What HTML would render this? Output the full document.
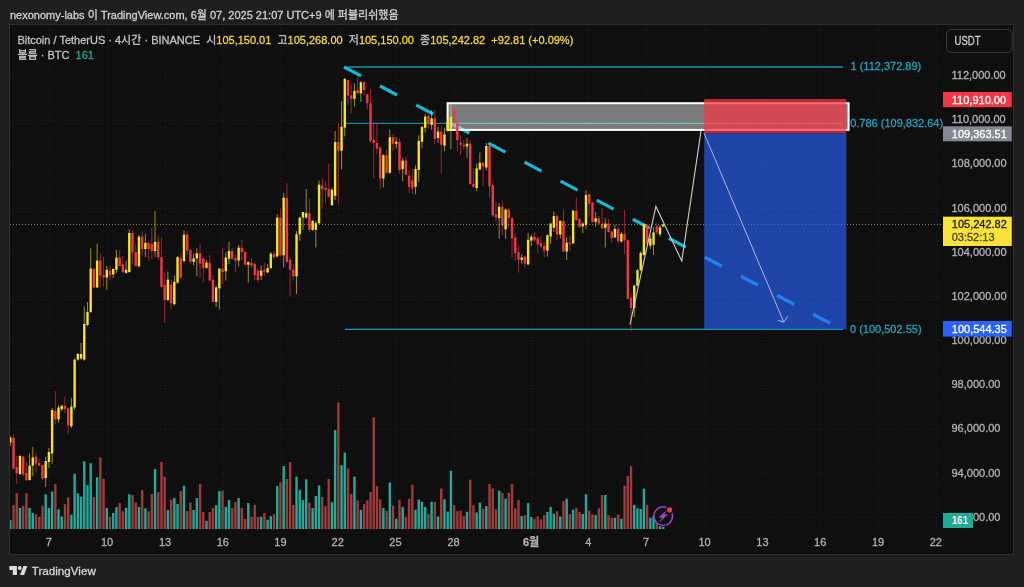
<!DOCTYPE html>
<html><head><meta charset="utf-8">
<style>
*{margin:0;padding:0;box-sizing:border-box}
html,body{width:1024px;height:587px;overflow:hidden;background:#1f1f1f}
#panel{position:absolute;left:9px;top:24px;width:1005px;height:531px;background:#0f0f0f;border:1px solid #2c2c2c}
svg{position:absolute;left:0;top:0;font-family:"Liberation Sans","Noto Sans CJK KR",sans-serif}
text{stroke-width:0.28px}
</style></head><body>
<div id="panel"></div>
<svg width="1024" height="587" viewBox="0 0 1024 587">
<defs><clipPath id="cp"><rect x="10" y="25" width="932" height="504"/></clipPath></defs>
<g clip-path="url(#cp)"><g stroke="#1d1d1d" stroke-width="1" stroke-dasharray="1 2"><line x1="10" y1="517.5" x2="942" y2="517.5"/><line x1="10" y1="473.5" x2="942" y2="473.5"/><line x1="10" y1="429.5" x2="942" y2="429.5"/><line x1="10" y1="385.5" x2="942" y2="385.5"/><line x1="10" y1="340.5" x2="942" y2="340.5"/><line x1="10" y1="296.5" x2="942" y2="296.5"/><line x1="10" y1="252.5" x2="942" y2="252.5"/><line x1="10" y1="208.5" x2="942" y2="208.5"/><line x1="10" y1="164.5" x2="942" y2="164.5"/><line x1="10" y1="120.5" x2="942" y2="120.5"/><line x1="10" y1="75.5" x2="942" y2="75.5"/><line x1="49.5" y1="25" x2="49.5" y2="529"/><line x1="107.5" y1="25" x2="107.5" y2="529"/><line x1="165.5" y1="25" x2="165.5" y2="529"/><line x1="223.5" y1="25" x2="223.5" y2="529"/><line x1="280.5" y1="25" x2="280.5" y2="529"/><line x1="338.5" y1="25" x2="338.5" y2="529"/><line x1="395.5" y1="25" x2="395.5" y2="529"/><line x1="454.5" y1="25" x2="454.5" y2="529"/><line x1="531.5" y1="25" x2="531.5" y2="529"/><line x1="588.5" y1="25" x2="588.5" y2="529"/><line x1="646.5" y1="25" x2="646.5" y2="529"/><line x1="705.5" y1="25" x2="705.5" y2="529"/><line x1="762.5" y1="25" x2="762.5" y2="529"/><line x1="820.5" y1="25" x2="820.5" y2="529"/><line x1="878.5" y1="25" x2="878.5" y2="529"/><line x1="936.5" y1="25" x2="936.5" y2="529"/></g><g fill="#24a99b"><rect x="9.10" y="520.2" width="2.4" height="8.8"/><rect x="18.75" y="507.9" width="2.4" height="21.1"/><rect x="28.40" y="507.9" width="2.4" height="21.1"/><rect x="31.61" y="513.0" width="2.4" height="16.0"/><rect x="44.48" y="494.3" width="2.4" height="34.7"/><rect x="47.69" y="507.9" width="2.4" height="21.1"/><rect x="50.91" y="491.6" width="2.4" height="37.4"/><rect x="57.34" y="509.3" width="2.4" height="19.7"/><rect x="60.56" y="516.5" width="2.4" height="12.5"/><rect x="70.21" y="514.7" width="2.4" height="14.3"/><rect x="73.42" y="473.8" width="2.4" height="55.2"/><rect x="76.64" y="493.3" width="2.4" height="35.7"/><rect x="79.86" y="496.6" width="2.4" height="32.4"/><rect x="83.07" y="461.4" width="2.4" height="67.6"/><rect x="86.29" y="485.1" width="2.4" height="43.9"/><rect x="89.50" y="463.2" width="2.4" height="65.8"/><rect x="95.94" y="477.2" width="2.4" height="51.8"/><rect x="105.59" y="507.9" width="2.4" height="21.1"/><rect x="112.02" y="513.0" width="2.4" height="16.0"/><rect x="115.23" y="507.2" width="2.4" height="21.8"/><rect x="124.88" y="507.9" width="2.4" height="21.1"/><rect x="128.10" y="494.3" width="2.4" height="34.7"/><rect x="137.75" y="506.9" width="2.4" height="22.1"/><rect x="144.18" y="508.3" width="2.4" height="20.7"/><rect x="153.83" y="469.1" width="2.4" height="59.9"/><rect x="166.69" y="510.0" width="2.4" height="19.0"/><rect x="173.13" y="498.0" width="2.4" height="31.0"/><rect x="176.34" y="504.1" width="2.4" height="24.9"/><rect x="182.77" y="485.7" width="2.4" height="43.3"/><rect x="192.42" y="510.0" width="2.4" height="19.0"/><rect x="195.64" y="498.0" width="2.4" height="31.0"/><rect x="205.29" y="520.8" width="2.4" height="8.2"/><rect x="214.94" y="505.2" width="2.4" height="23.8"/><rect x="218.15" y="491.1" width="2.4" height="37.9"/><rect x="224.59" y="506.9" width="2.4" height="22.1"/><rect x="227.80" y="500.1" width="2.4" height="28.9"/><rect x="237.45" y="498.0" width="2.4" height="31.0"/><rect x="247.10" y="503.1" width="2.4" height="25.9"/><rect x="259.96" y="516.8" width="2.4" height="12.2"/><rect x="266.40" y="519.8" width="2.4" height="9.2"/><rect x="269.61" y="516.1" width="2.4" height="12.9"/><rect x="276.04" y="486.1" width="2.4" height="42.9"/><rect x="282.48" y="466.1" width="2.4" height="62.9"/><rect x="295.34" y="476.6" width="2.4" height="52.4"/><rect x="298.56" y="489.8" width="2.4" height="39.2"/><rect x="301.77" y="500.1" width="2.4" height="28.9"/><rect x="304.99" y="479.3" width="2.4" height="49.7"/><rect x="311.42" y="508.2" width="2.4" height="20.8"/><rect x="314.64" y="496.1" width="2.4" height="32.9"/><rect x="317.86" y="485.5" width="2.4" height="43.5"/><rect x="330.72" y="502.2" width="2.4" height="26.8"/><rect x="333.94" y="430.1" width="2.4" height="98.9"/><rect x="340.37" y="465.2" width="2.4" height="63.8"/><rect x="343.58" y="452.5" width="2.4" height="76.5"/><rect x="353.23" y="476.6" width="2.4" height="52.4"/><rect x="359.67" y="509.8" width="2.4" height="19.2"/><rect x="382.18" y="508.1" width="2.4" height="20.9"/><rect x="388.61" y="482.5" width="2.4" height="46.5"/><rect x="395.04" y="518.8" width="2.4" height="10.2"/><rect x="401.48" y="506.9" width="2.4" height="22.1"/><rect x="414.34" y="509.7" width="2.4" height="19.3"/><rect x="417.56" y="499.5" width="2.4" height="29.5"/><rect x="420.77" y="501.8" width="2.4" height="27.2"/><rect x="423.99" y="506.9" width="2.4" height="22.1"/><rect x="430.42" y="501.8" width="2.4" height="27.2"/><rect x="436.85" y="516.5" width="2.4" height="12.5"/><rect x="443.29" y="499.3" width="2.4" height="29.7"/><rect x="446.50" y="511.6" width="2.4" height="17.4"/><rect x="449.72" y="470.7" width="2.4" height="58.3"/><rect x="465.80" y="511.8" width="2.4" height="17.2"/><rect x="475.45" y="512.4" width="2.4" height="16.6"/><rect x="478.67" y="502.5" width="2.4" height="26.5"/><rect x="485.10" y="506.1" width="2.4" height="22.9"/><rect x="497.96" y="490.6" width="2.4" height="38.4"/><rect x="504.39" y="498.8" width="2.4" height="30.2"/><rect x="520.48" y="516.1" width="2.4" height="12.9"/><rect x="526.91" y="503.1" width="2.4" height="25.9"/><rect x="530.12" y="517.0" width="2.4" height="12.0"/><rect x="546.21" y="512.0" width="2.4" height="17.0"/><rect x="549.42" y="506.9" width="2.4" height="22.1"/><rect x="552.64" y="513.8" width="2.4" height="15.2"/><rect x="559.07" y="516.5" width="2.4" height="12.5"/><rect x="565.50" y="498.8" width="2.4" height="30.2"/><rect x="571.93" y="509.7" width="2.4" height="19.3"/><rect x="581.58" y="514.0" width="2.4" height="15.0"/><rect x="584.80" y="494.3" width="2.4" height="34.7"/><rect x="594.45" y="515.1" width="2.4" height="13.9"/><rect x="604.10" y="495.0" width="2.4" height="34.0"/><rect x="613.75" y="517.8" width="2.4" height="11.2"/><rect x="620.18" y="518.8" width="2.4" height="10.2"/><rect x="633.04" y="504.8" width="2.4" height="24.2"/><rect x="636.26" y="508.3" width="2.4" height="20.7"/><rect x="639.48" y="508.9" width="2.4" height="20.1"/><rect x="642.69" y="488.6" width="2.4" height="40.4"/><rect x="649.12" y="517.8" width="2.4" height="11.2"/><rect x="652.34" y="516.1" width="2.4" height="12.9"/><rect x="658.77" y="526.3" width="2.4" height="2.7"/><rect x="661.99" y="527.0" width="2.4" height="2.0"/></g><g fill="#9e3b3b"><rect x="12.32" y="505.2" width="2.4" height="23.8"/><rect x="15.53" y="493.3" width="2.4" height="35.7"/><rect x="21.96" y="505.9" width="2.4" height="23.1"/><rect x="25.18" y="493.3" width="2.4" height="35.7"/><rect x="34.83" y="514.3" width="2.4" height="14.7"/><rect x="38.05" y="516.8" width="2.4" height="12.2"/><rect x="41.26" y="505.6" width="2.4" height="23.4"/><rect x="54.13" y="484.0" width="2.4" height="45.0"/><rect x="63.78" y="504.2" width="2.4" height="24.8"/><rect x="66.99" y="497.4" width="2.4" height="31.6"/><rect x="92.72" y="497.0" width="2.4" height="32.0"/><rect x="99.15" y="457.5" width="2.4" height="71.5"/><rect x="102.37" y="478.9" width="2.4" height="50.1"/><rect x="108.80" y="516.8" width="2.4" height="12.2"/><rect x="118.45" y="503.1" width="2.4" height="25.9"/><rect x="121.67" y="511.3" width="2.4" height="17.7"/><rect x="131.32" y="495.0" width="2.4" height="34.0"/><rect x="134.53" y="502.5" width="2.4" height="26.5"/><rect x="140.96" y="490.2" width="2.4" height="38.8"/><rect x="147.40" y="511.3" width="2.4" height="17.7"/><rect x="150.61" y="493.9" width="2.4" height="35.1"/><rect x="157.05" y="492.2" width="2.4" height="36.8"/><rect x="160.26" y="462.0" width="2.4" height="67.0"/><rect x="163.48" y="476.8" width="2.4" height="52.2"/><rect x="169.91" y="499.7" width="2.4" height="29.3"/><rect x="179.56" y="490.9" width="2.4" height="38.1"/><rect x="185.99" y="510.9" width="2.4" height="18.1"/><rect x="189.21" y="502.5" width="2.4" height="26.5"/><rect x="198.86" y="484.0" width="2.4" height="45.0"/><rect x="202.07" y="512.0" width="2.4" height="17.0"/><rect x="208.50" y="512.0" width="2.4" height="17.0"/><rect x="211.72" y="507.9" width="2.4" height="21.1"/><rect x="221.37" y="490.6" width="2.4" height="38.4"/><rect x="231.02" y="507.9" width="2.4" height="21.1"/><rect x="234.23" y="501.8" width="2.4" height="27.2"/><rect x="240.67" y="507.9" width="2.4" height="21.1"/><rect x="243.88" y="518.8" width="2.4" height="10.2"/><rect x="250.32" y="516.8" width="2.4" height="12.2"/><rect x="253.53" y="504.8" width="2.4" height="24.2"/><rect x="256.75" y="516.8" width="2.4" height="12.2"/><rect x="263.18" y="513.0" width="2.4" height="16.0"/><rect x="272.83" y="514.3" width="2.4" height="14.7"/><rect x="279.26" y="482.4" width="2.4" height="46.6"/><rect x="285.69" y="478.9" width="2.4" height="50.1"/><rect x="288.91" y="462.0" width="2.4" height="67.0"/><rect x="292.13" y="504.8" width="2.4" height="24.2"/><rect x="308.21" y="502.5" width="2.4" height="26.5"/><rect x="321.07" y="496.9" width="2.4" height="32.1"/><rect x="324.29" y="506.2" width="2.4" height="22.8"/><rect x="327.50" y="479.0" width="2.4" height="50.0"/><rect x="337.15" y="402.4" width="2.4" height="126.6"/><rect x="346.80" y="468.3" width="2.4" height="60.7"/><rect x="350.02" y="493.8" width="2.4" height="35.2"/><rect x="356.45" y="500.3" width="2.4" height="28.7"/><rect x="362.88" y="504.1" width="2.4" height="24.9"/><rect x="366.10" y="500.3" width="2.4" height="28.7"/><rect x="369.31" y="492.1" width="2.4" height="36.9"/><rect x="372.53" y="417.4" width="2.4" height="111.6"/><rect x="375.75" y="486.2" width="2.4" height="42.8"/><rect x="378.96" y="499.3" width="2.4" height="29.7"/><rect x="385.40" y="510.8" width="2.4" height="18.2"/><rect x="391.83" y="505.6" width="2.4" height="23.4"/><rect x="398.26" y="499.7" width="2.4" height="29.3"/><rect x="404.69" y="516.8" width="2.4" height="12.2"/><rect x="407.91" y="498.8" width="2.4" height="30.2"/><rect x="411.13" y="484.7" width="2.4" height="44.3"/><rect x="427.21" y="513.8" width="2.4" height="15.2"/><rect x="433.64" y="501.8" width="2.4" height="27.2"/><rect x="440.07" y="488.4" width="2.4" height="40.6"/><rect x="452.94" y="505.2" width="2.4" height="23.8"/><rect x="456.15" y="511.3" width="2.4" height="17.7"/><rect x="459.37" y="510.6" width="2.4" height="18.4"/><rect x="462.58" y="516.1" width="2.4" height="12.9"/><rect x="469.02" y="479.7" width="2.4" height="49.3"/><rect x="472.23" y="505.2" width="2.4" height="23.8"/><rect x="481.88" y="508.6" width="2.4" height="20.4"/><rect x="488.31" y="484.0" width="2.4" height="45.0"/><rect x="491.53" y="488.4" width="2.4" height="40.6"/><rect x="494.75" y="509.3" width="2.4" height="19.7"/><rect x="501.18" y="492.9" width="2.4" height="36.1"/><rect x="507.61" y="492.9" width="2.4" height="36.1"/><rect x="510.83" y="484.0" width="2.4" height="45.0"/><rect x="514.04" y="508.3" width="2.4" height="20.7"/><rect x="517.26" y="500.1" width="2.4" height="28.9"/><rect x="523.69" y="515.1" width="2.4" height="13.9"/><rect x="533.34" y="518.8" width="2.4" height="10.2"/><rect x="536.56" y="516.5" width="2.4" height="12.5"/><rect x="539.77" y="519.5" width="2.4" height="9.5"/><rect x="542.99" y="515.1" width="2.4" height="13.9"/><rect x="555.85" y="511.3" width="2.4" height="17.7"/><rect x="562.29" y="501.1" width="2.4" height="27.9"/><rect x="568.72" y="514.0" width="2.4" height="15.0"/><rect x="575.15" y="507.9" width="2.4" height="21.1"/><rect x="578.37" y="512.0" width="2.4" height="17.0"/><rect x="588.02" y="510.6" width="2.4" height="18.4"/><rect x="591.23" y="514.3" width="2.4" height="14.7"/><rect x="597.66" y="508.3" width="2.4" height="20.7"/><rect x="600.88" y="495.0" width="2.4" height="34.0"/><rect x="607.31" y="515.1" width="2.4" height="13.9"/><rect x="610.53" y="517.8" width="2.4" height="11.2"/><rect x="616.96" y="514.7" width="2.4" height="14.3"/><rect x="623.39" y="485.7" width="2.4" height="43.3"/><rect x="626.61" y="475.9" width="2.4" height="53.1"/><rect x="629.83" y="466.3" width="2.4" height="62.7"/><rect x="645.91" y="504.8" width="2.4" height="24.2"/><rect x="655.56" y="522.2" width="2.4" height="6.8"/></g><g stroke="#0a9bb0"><line x1="347" y1="67" x2="843" y2="67" stroke-width="1.4"/><line x1="345" y1="123.3" x2="843" y2="123.3" stroke-width="1" stroke="#1aa6bc"/><line x1="345" y1="329.4" x2="843" y2="329.4" stroke-width="1.3"/></g><line x1="344" y1="67" x2="830" y2="323.2" stroke="#18b8d2" stroke-width="3.2" stroke-dasharray="19.2 21.6"/><rect x="447.6" y="103.2" width="401" height="26.7" fill="#ffffff" fill-opacity="0.45" stroke="#ffffff" stroke-width="2"/><g stroke="#f5e22e" stroke-width="1" opacity="0.6"><line x1="10.30" y1="436.0" x2="10.30" y2="446.0"/><line x1="19.95" y1="455.0" x2="19.95" y2="475.0"/><line x1="29.60" y1="453.4" x2="29.60" y2="480.6"/><line x1="32.81" y1="447.0" x2="32.81" y2="476.0"/><line x1="45.68" y1="456.8" x2="45.68" y2="486.8"/><line x1="48.89" y1="448.0" x2="48.89" y2="468.0"/><line x1="52.11" y1="408.0" x2="52.11" y2="463.6"/><line x1="58.54" y1="405.0" x2="58.54" y2="422.8"/><line x1="61.76" y1="405.0" x2="61.76" y2="411.0"/><line x1="71.41" y1="398.0" x2="71.41" y2="428.0"/><line x1="74.62" y1="358.5" x2="74.62" y2="410.0"/><line x1="77.84" y1="353.0" x2="77.84" y2="360.7"/><line x1="81.06" y1="343.0" x2="81.06" y2="359.6"/><line x1="84.27" y1="306.5" x2="84.27" y2="360.7"/><line x1="87.49" y1="302.0" x2="87.49" y2="326.4"/><line x1="90.70" y1="248.3" x2="90.70" y2="313.0"/><line x1="97.14" y1="243.7" x2="97.14" y2="287.5"/><line x1="106.79" y1="266.0" x2="106.79" y2="289.8"/><line x1="113.22" y1="268.3" x2="113.22" y2="278.2"/><line x1="116.43" y1="249.9" x2="116.43" y2="272.9"/><line x1="126.08" y1="260.6" x2="126.08" y2="273.6"/><line x1="129.30" y1="229.2" x2="129.30" y2="272.9"/><line x1="138.95" y1="234.6" x2="138.95" y2="267.3"/><line x1="145.38" y1="233.6" x2="145.38" y2="257.0"/><line x1="155.03" y1="211.0" x2="155.03" y2="257.1"/><line x1="167.89" y1="271.5" x2="167.89" y2="301.0"/><line x1="174.33" y1="275.5" x2="174.33" y2="305.2"/><line x1="177.54" y1="256.0" x2="177.54" y2="283.7"/><line x1="183.97" y1="230.3" x2="183.97" y2="262.7"/><line x1="193.62" y1="253.3" x2="193.62" y2="265.3"/><line x1="196.84" y1="248.2" x2="196.84" y2="276.3"/><line x1="206.49" y1="260.2" x2="206.49" y2="268.6"/><line x1="216.14" y1="285.7" x2="216.14" y2="307.0"/><line x1="219.35" y1="267.8" x2="219.35" y2="309.5"/><line x1="225.79" y1="252.5" x2="225.79" y2="280.6"/><line x1="229.00" y1="241.7" x2="229.00" y2="263.9"/><line x1="238.65" y1="245.0" x2="238.65" y2="266.4"/><line x1="248.30" y1="261.3" x2="248.30" y2="282.6"/><line x1="261.16" y1="265.6" x2="261.16" y2="280.0"/><line x1="267.60" y1="264.0" x2="267.60" y2="273.2"/><line x1="270.81" y1="252.0" x2="270.81" y2="269.0"/><line x1="277.24" y1="214.3" x2="277.24" y2="257.5"/><line x1="283.68" y1="193.3" x2="283.68" y2="267.5"/><line x1="296.54" y1="231.0" x2="296.54" y2="294.0"/><line x1="299.76" y1="216.5" x2="299.76" y2="240.9"/><line x1="302.97" y1="212.0" x2="302.97" y2="229.8"/><line x1="306.19" y1="188.8" x2="306.19" y2="218.7"/><line x1="312.62" y1="219.9" x2="312.62" y2="230.9"/><line x1="315.84" y1="221.0" x2="315.84" y2="247.5"/><line x1="319.06" y1="180.5" x2="319.06" y2="224.2"/><line x1="331.92" y1="188.0" x2="331.92" y2="206.0"/><line x1="335.14" y1="131.0" x2="335.14" y2="200.0"/><line x1="341.57" y1="101.0" x2="341.57" y2="169.4"/><line x1="344.78" y1="77.8" x2="344.78" y2="136.4"/><line x1="354.43" y1="83.3" x2="354.43" y2="106.5"/><line x1="360.87" y1="81.0" x2="360.87" y2="102.0"/><line x1="383.38" y1="154.0" x2="383.38" y2="187.4"/><line x1="389.81" y1="129.7" x2="389.81" y2="173.7"/><line x1="396.24" y1="137.0" x2="396.24" y2="148.5"/><line x1="402.68" y1="157.8" x2="402.68" y2="181.2"/><line x1="415.54" y1="165.3" x2="415.54" y2="194.3"/><line x1="418.76" y1="135.3" x2="418.76" y2="182.1"/><line x1="421.97" y1="126.0" x2="421.97" y2="148.4"/><line x1="425.19" y1="113.7" x2="425.19" y2="132.5"/><line x1="431.62" y1="110.0" x2="431.62" y2="129.7"/><line x1="438.05" y1="126.9" x2="438.05" y2="142.8"/><line x1="444.49" y1="127.8" x2="444.49" y2="151.2"/><line x1="447.70" y1="118.4" x2="447.70" y2="131.5"/><line x1="450.92" y1="104.4" x2="450.92" y2="149.3"/><line x1="467.00" y1="138.0" x2="467.00" y2="157.8"/><line x1="476.65" y1="163.7" x2="476.65" y2="191.0"/><line x1="479.87" y1="152.5" x2="479.87" y2="170.3"/><line x1="486.30" y1="143.0" x2="486.30" y2="170.3"/><line x1="499.16" y1="203.0" x2="499.16" y2="238.7"/><line x1="505.59" y1="208.7" x2="505.59" y2="238.7"/><line x1="521.68" y1="254.4" x2="521.68" y2="263.6"/><line x1="528.11" y1="233.0" x2="528.11" y2="265.2"/><line x1="531.32" y1="234.5" x2="531.32" y2="246.0"/><line x1="547.41" y1="234.5" x2="547.41" y2="256.7"/><line x1="550.62" y1="223.0" x2="550.62" y2="244.0"/><line x1="553.84" y1="211.3" x2="553.84" y2="231.8"/><line x1="560.27" y1="220.2" x2="560.27" y2="238.6"/><line x1="566.70" y1="237.2" x2="566.70" y2="260.0"/><line x1="573.13" y1="210.0" x2="573.13" y2="244.0"/><line x1="582.78" y1="222.2" x2="582.78" y2="233.1"/><line x1="586.00" y1="190.2" x2="586.00" y2="229.0"/><line x1="595.65" y1="211.7" x2="595.65" y2="226.6"/><line x1="605.30" y1="218.3" x2="605.30" y2="247.5"/><line x1="614.95" y1="224.8" x2="614.95" y2="238.0"/><line x1="621.38" y1="232.0" x2="621.38" y2="242.7"/><line x1="634.24" y1="284.5" x2="634.24" y2="317.2"/><line x1="637.46" y1="269.0" x2="637.46" y2="286.6"/><line x1="640.68" y1="251.5" x2="640.68" y2="271.0"/><line x1="643.89" y1="223.2" x2="643.89" y2="256.0"/><line x1="650.32" y1="235.4" x2="650.32" y2="248.7"/><line x1="653.54" y1="227.3" x2="653.54" y2="254.9"/><line x1="659.97" y1="225.2" x2="659.97" y2="236.5"/><line x1="663.19" y1="223.9" x2="663.19" y2="226.5"/></g><g stroke="#f23645" stroke-width="1" opacity="0.6"><line x1="13.52" y1="434.3" x2="13.52" y2="469.7"/><line x1="16.73" y1="456.0" x2="16.73" y2="484.0"/><line x1="23.16" y1="456.0" x2="23.16" y2="476.0"/><line x1="26.38" y1="462.0" x2="26.38" y2="481.0"/><line x1="36.03" y1="452.7" x2="36.03" y2="472.5"/><line x1="39.25" y1="459.0" x2="39.25" y2="466.0"/><line x1="42.46" y1="465.0" x2="42.46" y2="480.0"/><line x1="55.33" y1="391.3" x2="55.33" y2="424.5"/><line x1="64.98" y1="396.4" x2="64.98" y2="413.4"/><line x1="68.19" y1="408.3" x2="68.19" y2="433.9"/><line x1="93.92" y1="268.0" x2="93.92" y2="288.5"/><line x1="100.35" y1="254.0" x2="100.35" y2="286.9"/><line x1="103.57" y1="256.8" x2="103.57" y2="286.7"/><line x1="110.00" y1="265.2" x2="110.00" y2="280.5"/><line x1="119.65" y1="249.9" x2="119.65" y2="266.0"/><line x1="122.87" y1="256.0" x2="122.87" y2="272.9"/><line x1="132.52" y1="230.7" x2="132.52" y2="263.7"/><line x1="135.73" y1="243.7" x2="135.73" y2="266.7"/><line x1="142.16" y1="231.6" x2="142.16" y2="256.0"/><line x1="148.60" y1="241.8" x2="148.60" y2="261.2"/><line x1="151.81" y1="227.5" x2="151.81" y2="259.2"/><line x1="158.25" y1="235.7" x2="158.25" y2="260.2"/><line x1="161.46" y1="237.7" x2="161.46" y2="287.8"/><line x1="164.68" y1="272.5" x2="164.68" y2="323.0"/><line x1="171.11" y1="279.6" x2="171.11" y2="309.3"/><line x1="180.76" y1="253.0" x2="180.76" y2="278.6"/><line x1="187.19" y1="231.2" x2="187.19" y2="255.0"/><line x1="190.41" y1="249.0" x2="190.41" y2="264.5"/><line x1="200.06" y1="244.0" x2="200.06" y2="278.0"/><line x1="203.27" y1="257.6" x2="203.27" y2="282.3"/><line x1="209.70" y1="255.0" x2="209.70" y2="280.6"/><line x1="212.92" y1="275.5" x2="212.92" y2="302.7"/><line x1="222.57" y1="248.2" x2="222.57" y2="284.0"/><line x1="232.22" y1="247.7" x2="232.22" y2="259.6"/><line x1="235.43" y1="254.5" x2="235.43" y2="272.4"/><line x1="241.87" y1="240.0" x2="241.87" y2="260.5"/><line x1="245.08" y1="251.0" x2="245.08" y2="265.5"/><line x1="251.52" y1="258.0" x2="251.52" y2="268.1"/><line x1="254.73" y1="262.2" x2="254.73" y2="280.0"/><line x1="257.95" y1="269.0" x2="257.95" y2="281.8"/><line x1="264.38" y1="263.0" x2="264.38" y2="275.8"/><line x1="274.03" y1="251.0" x2="274.03" y2="258.5"/><line x1="280.46" y1="208.8" x2="280.46" y2="256.4"/><line x1="286.89" y1="183.3" x2="286.89" y2="263.0"/><line x1="290.11" y1="257.5" x2="290.11" y2="296.2"/><line x1="293.33" y1="264.0" x2="293.33" y2="280.7"/><line x1="309.41" y1="198.8" x2="309.41" y2="232.0"/><line x1="322.27" y1="178.0" x2="322.27" y2="208.6"/><line x1="325.49" y1="181.3" x2="325.49" y2="203.5"/><line x1="328.70" y1="163.4" x2="328.70" y2="197.5"/><line x1="338.35" y1="122.6" x2="338.35" y2="204.3"/><line x1="348.00" y1="80.0" x2="348.00" y2="105.4"/><line x1="351.22" y1="83.3" x2="351.22" y2="113.2"/><line x1="357.65" y1="76.6" x2="357.65" y2="94.4"/><line x1="364.08" y1="81.0" x2="364.08" y2="95.5"/><line x1="367.30" y1="93.3" x2="367.30" y2="110.0"/><line x1="370.51" y1="88.8" x2="370.51" y2="143.0"/><line x1="373.73" y1="123.0" x2="373.73" y2="178.5"/><line x1="376.95" y1="123.0" x2="376.95" y2="154.0"/><line x1="380.16" y1="146.4" x2="380.16" y2="189.6"/><line x1="386.60" y1="150.0" x2="386.60" y2="173.7"/><line x1="393.03" y1="134.4" x2="393.03" y2="151.2"/><line x1="399.46" y1="138.0" x2="399.46" y2="173.7"/><line x1="405.89" y1="156.8" x2="405.89" y2="175.6"/><line x1="409.11" y1="170.0" x2="409.11" y2="192.5"/><line x1="412.33" y1="169.0" x2="412.33" y2="194.3"/><line x1="428.41" y1="114.6" x2="428.41" y2="128.7"/><line x1="434.84" y1="110.0" x2="434.84" y2="144.7"/><line x1="441.27" y1="126.0" x2="441.27" y2="173.7"/><line x1="454.14" y1="107.2" x2="454.14" y2="126.9"/><line x1="457.35" y1="121.2" x2="457.35" y2="151.2"/><line x1="460.57" y1="135.3" x2="460.57" y2="155.0"/><line x1="463.78" y1="140.0" x2="463.78" y2="149.3"/><line x1="470.22" y1="140.0" x2="470.22" y2="185.0"/><line x1="473.43" y1="168.0" x2="473.43" y2="187.8"/><line x1="483.08" y1="161.9" x2="483.08" y2="186.2"/><line x1="489.51" y1="145.0" x2="489.51" y2="197.5"/><line x1="492.73" y1="182.5" x2="492.73" y2="217.1"/><line x1="495.95" y1="202.0" x2="495.95" y2="221.8"/><line x1="502.38" y1="201.2" x2="502.38" y2="235.0"/><line x1="508.81" y1="208.4" x2="508.81" y2="228.0"/><line x1="512.03" y1="217.6" x2="512.03" y2="257.5"/><line x1="515.24" y1="233.0" x2="515.24" y2="260.6"/><line x1="518.46" y1="246.0" x2="518.46" y2="272.8"/><line x1="524.89" y1="256.0" x2="524.89" y2="267.5"/><line x1="534.54" y1="232.2" x2="534.54" y2="242.1"/><line x1="537.76" y1="236.0" x2="537.76" y2="253.7"/><line x1="540.97" y1="236.0" x2="540.97" y2="247.5"/><line x1="544.19" y1="242.0" x2="544.19" y2="257.5"/><line x1="557.05" y1="214.0" x2="557.05" y2="240.0"/><line x1="563.49" y1="209.3" x2="563.49" y2="252.2"/><line x1="569.92" y1="235.9" x2="569.92" y2="251.5"/><line x1="576.35" y1="197.0" x2="576.35" y2="220.9"/><line x1="579.57" y1="218.0" x2="579.57" y2="228.0"/><line x1="589.22" y1="193.6" x2="589.22" y2="216.8"/><line x1="592.43" y1="201.5" x2="592.43" y2="223.0"/><line x1="598.86" y1="216.0" x2="598.86" y2="224.5"/><line x1="602.08" y1="208.1" x2="602.08" y2="229.0"/><line x1="608.51" y1="218.9" x2="608.51" y2="232.6"/><line x1="611.73" y1="230.8" x2="611.73" y2="242.7"/><line x1="618.16" y1="225.4" x2="618.16" y2="243.3"/><line x1="624.59" y1="209.9" x2="624.59" y2="254.0"/><line x1="627.81" y1="239.5" x2="627.81" y2="299.5"/><line x1="631.03" y1="292.7" x2="631.03" y2="331.6"/><line x1="647.11" y1="224.2" x2="647.11" y2="245.0"/><line x1="656.76" y1="223.2" x2="656.76" y2="234.4"/></g><g fill="#f5e22e"><rect x="9.10" y="437.7" width="2.4" height="4.8"/><rect x="18.75" y="456.0" width="2.4" height="18.0"/><rect x="28.40" y="465.6" width="2.4" height="14.4"/><rect x="31.61" y="457.5" width="2.4" height="8.1"/><rect x="44.48" y="461.0" width="2.4" height="17.0"/><rect x="47.69" y="452.0" width="2.4" height="10.0"/><rect x="50.91" y="410.0" width="2.4" height="43.5"/><rect x="57.34" y="407.5" width="2.4" height="11.9"/><rect x="60.56" y="405.8" width="2.4" height="3.4"/><rect x="70.21" y="406.6" width="2.4" height="19.6"/><rect x="73.42" y="359.6" width="2.4" height="47.9"/><rect x="76.64" y="354.0" width="2.4" height="5.6"/><rect x="79.86" y="354.0" width="2.4" height="4.5"/><rect x="83.07" y="324.0" width="2.4" height="35.6"/><rect x="86.29" y="312.0" width="2.4" height="13.0"/><rect x="89.50" y="268.5" width="2.4" height="43.5"/><rect x="95.94" y="260.6" width="2.4" height="26.9"/><rect x="105.59" y="269.8" width="2.4" height="7.7"/><rect x="112.02" y="269.0" width="2.4" height="5.4"/><rect x="115.23" y="257.5" width="2.4" height="12.3"/><rect x="124.88" y="269.8" width="2.4" height="3.1"/><rect x="128.10" y="233.0" width="2.4" height="39.0"/><rect x="137.75" y="236.7" width="2.4" height="29.6"/><rect x="144.18" y="242.8" width="2.4" height="6.2"/><rect x="153.83" y="241.8" width="2.4" height="9.2"/><rect x="166.69" y="279.6" width="2.4" height="20.4"/><rect x="173.13" y="281.7" width="2.4" height="22.5"/><rect x="176.34" y="257.1" width="2.4" height="25.6"/><rect x="182.77" y="234.6" width="2.4" height="26.4"/><rect x="192.42" y="258.4" width="2.4" height="3.4"/><rect x="195.64" y="253.3" width="2.4" height="5.1"/><rect x="205.29" y="262.7" width="2.4" height="5.1"/><rect x="214.94" y="287.4" width="2.4" height="14.5"/><rect x="218.15" y="268.7" width="2.4" height="19.6"/><rect x="224.59" y="257.6" width="2.4" height="13.6"/><rect x="227.80" y="251.0" width="2.4" height="7.8"/><rect x="237.45" y="247.7" width="2.4" height="12.8"/><rect x="247.10" y="262.2" width="2.4" height="2.5"/><rect x="259.96" y="270.7" width="2.4" height="5.1"/><rect x="266.40" y="268.1" width="2.4" height="4.3"/><rect x="269.61" y="253.7" width="2.4" height="14.4"/><rect x="276.04" y="217.6" width="2.4" height="38.8"/><rect x="282.48" y="197.7" width="2.4" height="57.6"/><rect x="295.34" y="234.2" width="2.4" height="42.1"/><rect x="298.56" y="217.6" width="2.4" height="16.6"/><rect x="301.77" y="212.0" width="2.4" height="5.6"/><rect x="304.99" y="213.2" width="2.4" height="4.4"/><rect x="311.42" y="221.0" width="2.4" height="8.8"/><rect x="314.64" y="223.2" width="2.4" height="6.6"/><rect x="317.86" y="184.7" width="2.4" height="38.5"/><rect x="330.72" y="189.8" width="2.4" height="15.4"/><rect x="333.94" y="142.1" width="2.4" height="53.7"/><rect x="340.37" y="126.8" width="2.4" height="23.9"/><rect x="343.58" y="78.9" width="2.4" height="48.7"/><rect x="353.23" y="91.0" width="2.4" height="7.8"/><rect x="359.67" y="82.2" width="2.4" height="11.1"/><rect x="382.18" y="155.3" width="2.4" height="23.2"/><rect x="388.61" y="137.2" width="2.4" height="35.6"/><rect x="395.04" y="141.8" width="2.4" height="1.9"/><rect x="401.48" y="160.6" width="2.4" height="8.4"/><rect x="414.34" y="169.0" width="2.4" height="17.8"/><rect x="417.56" y="140.9" width="2.4" height="29.1"/><rect x="420.77" y="126.9" width="2.4" height="14.9"/><rect x="423.99" y="116.6" width="2.4" height="11.2"/><rect x="430.42" y="118.4" width="2.4" height="6.6"/><rect x="436.85" y="131.5" width="2.4" height="6.6"/><rect x="443.29" y="134.4" width="2.4" height="11.2"/><rect x="446.50" y="121.2" width="2.4" height="9.4"/><rect x="449.72" y="116.6" width="2.4" height="13.1"/><rect x="465.80" y="143.7" width="2.4" height="2.8"/><rect x="475.45" y="168.4" width="2.4" height="19.6"/><rect x="478.67" y="162.8" width="2.4" height="6.6"/><rect x="485.10" y="146.0" width="2.4" height="21.5"/><rect x="497.96" y="206.8" width="2.4" height="11.2"/><rect x="504.39" y="209.6" width="2.4" height="19.7"/><rect x="520.48" y="257.5" width="2.4" height="2.3"/><rect x="526.91" y="239.8" width="2.4" height="24.6"/><rect x="530.12" y="236.8" width="2.4" height="3.8"/><rect x="546.21" y="235.2" width="2.4" height="15.4"/><rect x="549.42" y="223.6" width="2.4" height="12.9"/><rect x="552.64" y="216.1" width="2.4" height="11.6"/><rect x="559.07" y="220.9" width="2.4" height="13.6"/><rect x="565.50" y="242.7" width="2.4" height="8.8"/><rect x="571.93" y="210.7" width="2.4" height="32.7"/><rect x="581.58" y="223.6" width="2.4" height="2.7"/><rect x="584.80" y="195.0" width="2.4" height="30.0"/><rect x="594.45" y="218.3" width="2.4" height="3.5"/><rect x="604.10" y="223.6" width="2.4" height="4.2"/><rect x="613.75" y="229.0" width="2.4" height="8.4"/><rect x="620.18" y="233.8" width="2.4" height="7.7"/><rect x="633.04" y="285.6" width="2.4" height="22.4"/><rect x="636.26" y="270.2" width="2.4" height="15.4"/><rect x="639.48" y="252.8" width="2.4" height="17.4"/><rect x="642.69" y="224.2" width="2.4" height="30.7"/><rect x="649.12" y="238.5" width="2.4" height="7.2"/><rect x="652.34" y="232.4" width="2.4" height="12.3"/><rect x="658.77" y="227.3" width="2.4" height="7.1"/><rect x="661.99" y="224.4" width="2.4" height="2.1"/></g><g fill="#f23645"><rect x="12.32" y="437.7" width="2.4" height="30.7"/><rect x="15.53" y="467.0" width="2.4" height="6.0"/><rect x="21.96" y="456.5" width="2.4" height="18.0"/><rect x="25.18" y="473.0" width="2.4" height="7.0"/><rect x="34.83" y="456.8" width="2.4" height="6.8"/><rect x="38.05" y="463.0" width="2.4" height="2.6"/><rect x="41.26" y="465.0" width="2.4" height="13.6"/><rect x="54.13" y="411.0" width="2.4" height="8.4"/><rect x="63.78" y="405.8" width="2.4" height="3.4"/><rect x="66.99" y="408.3" width="2.4" height="17.1"/><rect x="92.72" y="269.0" width="2.4" height="18.5"/><rect x="99.15" y="260.6" width="2.4" height="15.0"/><rect x="102.37" y="275.2" width="2.4" height="2.3"/><rect x="108.80" y="270.6" width="2.4" height="4.6"/><rect x="118.45" y="257.5" width="2.4" height="8.5"/><rect x="121.67" y="264.4" width="2.4" height="7.7"/><rect x="131.32" y="233.0" width="2.4" height="19.2"/><rect x="134.53" y="252.2" width="2.4" height="13.8"/><rect x="140.96" y="236.7" width="2.4" height="12.3"/><rect x="147.40" y="242.8" width="2.4" height="6.2"/><rect x="150.61" y="244.0" width="2.4" height="7.0"/><rect x="157.05" y="241.8" width="2.4" height="15.3"/><rect x="160.26" y="257.1" width="2.4" height="29.7"/><rect x="163.48" y="284.8" width="2.4" height="15.2"/><rect x="169.91" y="284.8" width="2.4" height="18.4"/><rect x="179.56" y="258.2" width="2.4" height="19.4"/><rect x="185.99" y="234.6" width="2.4" height="16.2"/><rect x="189.21" y="250.0" width="2.4" height="11.8"/><rect x="198.86" y="253.3" width="2.4" height="10.3"/><rect x="202.07" y="258.4" width="2.4" height="9.4"/><rect x="208.50" y="262.7" width="2.4" height="17.9"/><rect x="211.72" y="279.7" width="2.4" height="22.2"/><rect x="221.37" y="268.7" width="2.4" height="3.3"/><rect x="231.02" y="251.0" width="2.4" height="7.8"/><rect x="234.23" y="258.0" width="2.4" height="2.5"/><rect x="240.67" y="247.7" width="2.4" height="4.3"/><rect x="243.88" y="252.0" width="2.4" height="12.7"/><rect x="250.32" y="263.0" width="2.4" height="2.6"/><rect x="253.53" y="263.9" width="2.4" height="11.1"/><rect x="256.75" y="270.7" width="2.4" height="9.3"/><rect x="263.18" y="269.8" width="2.4" height="1.7"/><rect x="272.83" y="253.7" width="2.4" height="3.8"/><rect x="279.26" y="217.6" width="2.4" height="37.7"/><rect x="285.69" y="197.7" width="2.4" height="64.3"/><rect x="288.91" y="259.7" width="2.4" height="10.0"/><rect x="292.13" y="269.7" width="2.4" height="6.6"/><rect x="308.21" y="213.2" width="2.4" height="16.6"/><rect x="321.07" y="185.6" width="2.4" height="3.4"/><rect x="324.29" y="188.0" width="2.4" height="1.8"/><rect x="327.50" y="189.0" width="2.4" height="7.7"/><rect x="337.15" y="142.1" width="2.4" height="8.6"/><rect x="346.80" y="80.0" width="2.4" height="15.5"/><rect x="350.02" y="95.5" width="2.4" height="3.3"/><rect x="356.45" y="90.0" width="2.4" height="3.3"/><rect x="362.88" y="82.2" width="2.4" height="7.8"/><rect x="366.10" y="94.4" width="2.4" height="8.8"/><rect x="369.31" y="103.2" width="2.4" height="37.7"/><rect x="372.53" y="139.8" width="2.4" height="3.2"/><rect x="375.75" y="143.0" width="2.4" height="5.6"/><rect x="378.96" y="147.5" width="2.4" height="31.0"/><rect x="385.40" y="155.0" width="2.4" height="17.8"/><rect x="391.83" y="137.2" width="2.4" height="6.5"/><rect x="398.26" y="141.8" width="2.4" height="28.2"/><rect x="404.69" y="160.6" width="2.4" height="14.0"/><rect x="407.91" y="175.6" width="2.4" height="11.2"/><rect x="411.13" y="180.3" width="2.4" height="8.4"/><rect x="427.21" y="115.6" width="2.4" height="7.5"/><rect x="433.64" y="118.4" width="2.4" height="20.6"/><rect x="440.07" y="131.5" width="2.4" height="13.2"/><rect x="452.94" y="110.0" width="2.4" height="13.1"/><rect x="456.15" y="123.1" width="2.4" height="16.9"/><rect x="459.37" y="142.8" width="2.4" height="1.9"/><rect x="462.58" y="144.7" width="2.4" height="1.8"/><rect x="469.02" y="143.7" width="2.4" height="40.3"/><rect x="472.23" y="184.0" width="2.4" height="2.8"/><rect x="481.88" y="162.8" width="2.4" height="3.7"/><rect x="488.31" y="146.0" width="2.4" height="40.2"/><rect x="491.53" y="185.3" width="2.4" height="30.0"/><rect x="494.75" y="214.3" width="2.4" height="2.8"/><rect x="501.18" y="206.8" width="2.4" height="18.8"/><rect x="507.61" y="209.6" width="2.4" height="8.4"/><rect x="510.83" y="218.0" width="2.4" height="20.3"/><rect x="514.04" y="237.5" width="2.4" height="15.4"/><rect x="517.26" y="252.1" width="2.4" height="7.7"/><rect x="523.69" y="256.7" width="2.4" height="6.9"/><rect x="533.34" y="236.8" width="2.4" height="3.0"/><rect x="536.56" y="238.3" width="2.4" height="6.1"/><rect x="539.77" y="242.9" width="2.4" height="3.8"/><rect x="542.99" y="246.0" width="2.4" height="4.6"/><rect x="555.85" y="216.1" width="2.4" height="18.4"/><rect x="562.29" y="220.9" width="2.4" height="30.6"/><rect x="568.72" y="242.7" width="2.4" height="1.3"/><rect x="575.15" y="210.7" width="2.4" height="9.5"/><rect x="578.37" y="218.8" width="2.4" height="8.2"/><rect x="588.02" y="194.3" width="2.4" height="9.5"/><rect x="591.23" y="202.5" width="2.4" height="19.7"/><rect x="597.66" y="218.3" width="2.4" height="5.3"/><rect x="600.88" y="223.6" width="2.4" height="4.8"/><rect x="607.31" y="223.6" width="2.4" height="8.4"/><rect x="610.53" y="231.4" width="2.4" height="6.6"/><rect x="616.96" y="229.0" width="2.4" height="12.0"/><rect x="623.39" y="233.8" width="2.4" height="6.5"/><rect x="626.61" y="240.3" width="2.4" height="58.5"/><rect x="629.83" y="297.8" width="2.4" height="10.2"/><rect x="645.91" y="225.2" width="2.4" height="18.4"/><rect x="655.56" y="226.2" width="2.4" height="6.2"/></g><line x1="10" y1="224.5" x2="942" y2="224.5" stroke="#f5e22e" stroke-width="1" stroke-dasharray="1 2" opacity="0.55"/><polyline points="630,324.5 655.9,206.5 681.8,261 701,131" fill="none" stroke="#cfcfcf" stroke-width="1.1"/><rect x="704.2" y="99" width="142.1" height="34.3" fill="#f23645" fill-opacity="0.73"/><rect x="704.2" y="133.3" width="142.1" height="195.8" fill="#2962ff" fill-opacity="0.64"/><g stroke="#aab6e4" stroke-width="1" fill="none"><line x1="704" y1="133" x2="783.8" y2="322.2"/><polyline points="778,320.3 783.8,322.2 787.8,316.2"/></g></g>
<text x="10" y="18.5" fill="#d4d4d4" stroke="#d4d4d4" font-size="11" font-weight="normal" text-anchor="start" >nexonomy-labs 이 TradingView.com, 6월 07, 2025 21:07 UTC+9 에 퍼블리쉬했음</text><text x="17.4" y="43.6" font-size="11" fill="#c6c6c6" stroke="#c6c6c6" xml:space="preserve">Bitcoin / TetherUS · 4시간 · BINANCE  시<tspan fill="#f3dc2c" stroke="#f3dc2c">105,150.01</tspan>  고<tspan fill="#f3dc2c" stroke="#f3dc2c">105,268.00</tspan>  저<tspan fill="#f3dc2c" stroke="#f3dc2c">105,150.00</tspan>  종<tspan fill="#f3dc2c" stroke="#f3dc2c">105,242.82</tspan>  <tspan fill="#f3dc2c" stroke="#f3dc2c">+92.81 (+0.09%)</tspan></text><text x="17.4" y="58.9" font-size="11" fill="#c6c6c6" stroke="#c6c6c6" xml:space="preserve">볼륨 · BTC  <tspan fill="#22ab94" stroke="#22ab94">161</tspan></text><text x="951.5" y="520.7" fill="#b4b4b4" stroke="#b4b4b4" font-size="11" font-weight="normal" text-anchor="start" >92,000.00</text><text x="951.5" y="476.5" fill="#b4b4b4" stroke="#b4b4b4" font-size="11" font-weight="normal" text-anchor="start" >94,000.00</text><text x="951.5" y="432.3" fill="#b4b4b4" stroke="#b4b4b4" font-size="11" font-weight="normal" text-anchor="start" >96,000.00</text><text x="951.5" y="388.2" fill="#b4b4b4" stroke="#b4b4b4" font-size="11" font-weight="normal" text-anchor="start" >98,000.00</text><text x="951.5" y="344.0" fill="#b4b4b4" stroke="#b4b4b4" font-size="11" font-weight="normal" text-anchor="start" >100,000.00</text><text x="951.5" y="299.8" fill="#b4b4b4" stroke="#b4b4b4" font-size="11" font-weight="normal" text-anchor="start" >102,000.00</text><text x="951.5" y="255.7" fill="#b4b4b4" stroke="#b4b4b4" font-size="11" font-weight="normal" text-anchor="start" >104,000.00</text><text x="951.5" y="211.5" fill="#b4b4b4" stroke="#b4b4b4" font-size="11" font-weight="normal" text-anchor="start" >106,000.00</text><text x="951.5" y="167.3" fill="#b4b4b4" stroke="#b4b4b4" font-size="11" font-weight="normal" text-anchor="start" >108,000.00</text><text x="951.5" y="123.2" fill="#b4b4b4" stroke="#b4b4b4" font-size="11" font-weight="normal" text-anchor="start" >110,000.00</text><text x="951.5" y="79.0" fill="#b4b4b4" stroke="#b4b4b4" font-size="11" font-weight="normal" text-anchor="start" >112,000.00</text><text x="48.8" y="545.7" fill="#b4b4b4" stroke="#b4b4b4" font-size="11" font-weight="normal" text-anchor="middle" >7</text><text x="107.1" y="545.7" fill="#b4b4b4" stroke="#b4b4b4" font-size="11" font-weight="normal" text-anchor="middle" >10</text><text x="165" y="545.7" fill="#b4b4b4" stroke="#b4b4b4" font-size="11" font-weight="normal" text-anchor="middle" >13</text><text x="222.8" y="545.7" fill="#b4b4b4" stroke="#b4b4b4" font-size="11" font-weight="normal" text-anchor="middle" >16</text><text x="280.4" y="545.7" fill="#b4b4b4" stroke="#b4b4b4" font-size="11" font-weight="normal" text-anchor="middle" >19</text><text x="337.7" y="545.7" fill="#b4b4b4" stroke="#b4b4b4" font-size="11" font-weight="normal" text-anchor="middle" >22</text><text x="395.4" y="545.7" fill="#b4b4b4" stroke="#b4b4b4" font-size="11" font-weight="normal" text-anchor="middle" >25</text><text x="453.5" y="545.7" fill="#b4b4b4" stroke="#b4b4b4" font-size="11" font-weight="normal" text-anchor="middle" >28</text><text x="531" y="545.7" fill="#b4b4b4" stroke="#b4b4b4" font-size="11" font-weight="bold" text-anchor="middle" >6월</text><text x="588.3" y="545.7" fill="#b4b4b4" stroke="#b4b4b4" font-size="11" font-weight="normal" text-anchor="middle" >4</text><text x="646.1" y="545.7" fill="#b4b4b4" stroke="#b4b4b4" font-size="11" font-weight="normal" text-anchor="middle" >7</text><text x="704.6" y="545.7" fill="#b4b4b4" stroke="#b4b4b4" font-size="11" font-weight="normal" text-anchor="middle" >10</text><text x="762.4" y="545.7" fill="#b4b4b4" stroke="#b4b4b4" font-size="11" font-weight="normal" text-anchor="middle" >13</text><text x="820.2" y="545.7" fill="#b4b4b4" stroke="#b4b4b4" font-size="11" font-weight="normal" text-anchor="middle" >16</text><text x="878" y="545.7" fill="#b4b4b4" stroke="#b4b4b4" font-size="11" font-weight="normal" text-anchor="middle" >19</text><text x="935.8" y="545.7" fill="#b4b4b4" stroke="#b4b4b4" font-size="11" font-weight="normal" text-anchor="middle" >22</text><g font-size="11" fill="#1aa7bd" stroke="#1aa7bd"><text x="850.5" y="70.3">1 (112,372.89)</text><text x="850.2" y="126.6">0.786 (109,832.64)</text><text x="850" y="333.4">0 (100,502.55)</text></g>
<rect x="943" y="92" width="68.8" height="15.2" fill="#f23645"/><rect x="943" y="126.3" width="68.8" height="15" fill="#868993"/><rect x="943" y="216.7" width="68.8" height="29.3" fill="#f9e33a"/><rect x="943" y="321" width="68.8" height="15.6" fill="#2962ff"/><rect x="943" y="513" width="30" height="15" fill="#22ab94"/><rect x="946.5" y="29.5" width="65.5" height="23" rx="4.5" fill="#0f0f0f" stroke="#393939" stroke-width="1"/><text x="951.8" y="103.6" fill="#ffffff" stroke="#ffffff" font-size="11">110,910.00</text><text x="951.8" y="137.8" fill="#ffffff" stroke="#ffffff" font-size="11">109,363.51</text><text x="951.8" y="228" fill="#151515" stroke="#151515" font-size="11">105,242.82</text><text x="951.7" y="241.1" fill="#4a4518" stroke="#4a4518" font-size="11">03:52:13</text><text x="951.8" y="332.8" fill="#ffffff" stroke="#ffffff" font-size="11">100,544.35</text><text x="951.9" y="524.4" fill="#ffffff" font-size="11" font-weight="bold" textLength="16.2" lengthAdjust="spacingAndGlyphs">161</text><text x="954.6" y="44.8" fill="#d0d0d0" font-size="12" stroke="#d0d0d0" stroke-width="0.3" textLength="26" lengthAdjust="spacingAndGlyphs">USDT</text><text x="31.8" y="574.9" fill="#d8d8d8" stroke="#d8d8d8" stroke-width="0.45" font-size="11.3" textLength="64" lengthAdjust="spacingAndGlyphs">TradingView</text>
<g><circle cx="663.2" cy="516.1" r="9.4" fill="#0f0f0f" stroke="#a044c4" stroke-width="1.6"/>
<path d="M666.2 510.8 L659.2 517.3 L662.8 517.3 L660 521.5 L667.2 514.5 L663.6 514.5 Z" fill="#a044c4" stroke="#a044c4" stroke-width="0.7" stroke-linejoin="round"/>
<circle cx="669.6" cy="509.9" r="4" fill="#0f0f0f"/><circle cx="669.6" cy="509.9" r="2.6" fill="#f23645"/></g>
<g fill="#dcdcdc"><path d="M9.4 566 H16.9 V575 H12.8 V570 H9.4 Z"/><circle cx="19.7" cy="568" r="1.9"/><path d="M23.4 566 H27.3 L24.1 575 H20 Z"/></g>
</svg>
</body></html>
